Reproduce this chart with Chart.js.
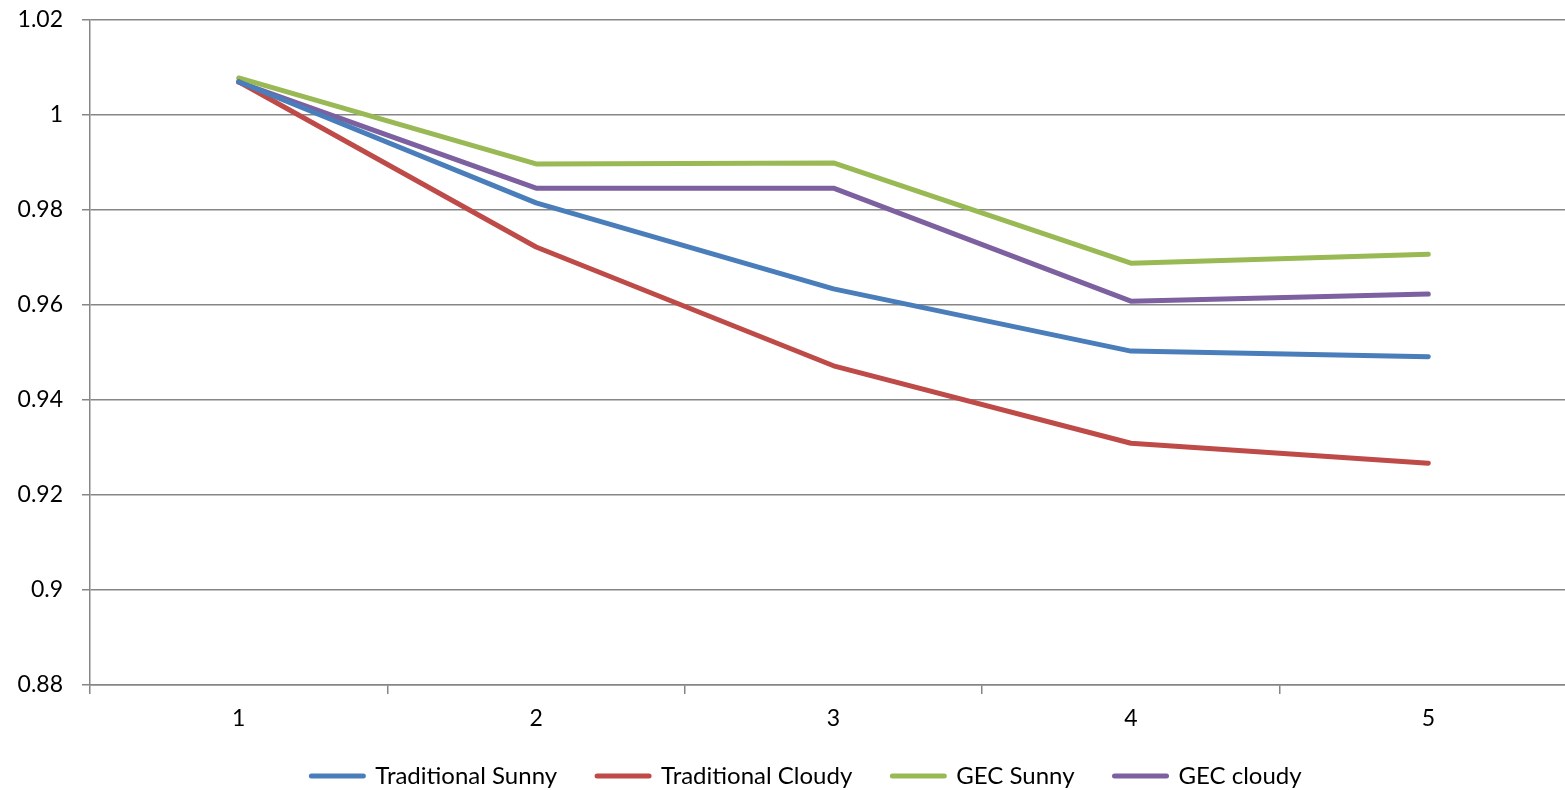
<!DOCTYPE html>
<html>
<head>
<meta charset="utf-8">
<script src="https://cdn.jsdelivr.net/npm/chart.js@4"></script>
<style>
  html, body { margin: 0; padding: 0; background: #fff; overflow: hidden; }
  #wrap { width: 1577px; height: 790px; }
</style>
</head>
<body>
<div id="wrap"><canvas id="chart"></canvas></div>
<script>
/* ── data ── */
const categories = ['1', '2', '3', '4', '5'];
const tradSunny  = [1.0070, 0.9815, 0.9634, 0.9503, 0.9491];
const tradCloudy = [1.0070, 0.9722, 0.9472, 0.9309, 0.9267];
const gecSunny   = [1.0078, 0.9897, 0.9899, 0.9688, 0.9707];
const gecCloudy  = [1.0069, 0.9846, 0.9846, 0.9608, 0.9623];
const yTicks     = [0.88, 0.9, 0.92, 0.94, 0.96, 0.98, 1, 1.02];

const FONT = 'Lato, "Liberation Sans", sans-serif';
const GRID = '#868686';

function series(label, data, color) {
  return {
    label, data,
    borderColor: color,
    backgroundColor: color,
    borderWidth: 5,
    borderCapStyle: 'round',
    borderJoinStyle: 'round',
    pointRadius: 0,
    tension: 0,
  };
}

/* move the legend a little right / up, like the original */
const legendShift = {
  id: 'legendShift',
  afterLayout(chart) {
    const lg = chart.legend;
    if (!lg) return;
    lg.left   += 18;
    lg.right  += 18;
    lg.top    -= 13;
    lg.bottom -= 13;
  },
};

new Chart(document.getElementById('chart'), {
  type: 'line',
  data: {
    labels: categories,
    datasets: [
      series('Traditional Sunny',  tradSunny,  '#4A7EBB'),
      series('Traditional Cloudy', tradCloudy, '#BE4B48'),
      series('GEC Sunny',          gecSunny,   '#98B954'),
      series('GEC cloudy',         gecCloudy,  '#7D60A0'),
    ],
  },
  plugins: [legendShift],
  options: {
    responsive         : true,
    maintainAspectRatio: false,
    animation          : false,
    layout: { padding: { top: 20, right: 0, left: 0, bottom: -21 } },
    plugins: {
      tooltip: { enabled: false },
      legend: {
        position: 'bottom',
        labels  : {
          usePointStyle  : true,
          pointStyle     : 'line',
          pointStyleWidth: 52,
          color          : '#000',
          padding        : 40,
          font           : { family: FONT, size: 24 },
          generateLabels(chart) {
            return Chart.defaults.plugins.legend.labels.generateLabels(chart)
              .map(l => ({ ...l, lineWidth: 5, lineCap: 'round' }));
          },
        },
      },
    },
    scales: {
      x: {
        offset: true,
        grid: {
          offset         : true,
          drawOnChartArea: false,
          drawTicks      : true,
          tickLength     : 9,
          color          : GRID,
          lineWidth      : 1.5,
        },
        border: { display: true, color: GRID, width: 1.5 },
        ticks : { color: '#000', padding: 11, font: { family: FONT, size: 23 } },
        afterFit(scale) { scale.height = 52; },
      },
      y: {
        min: 0.88,
        max: 1.02,
        afterBuildTicks(scale) { scale.ticks = yTicks.map(v => ({ value: v })); },
        grid: {
          color     : GRID,
          lineWidth : 1.5,
          tickLength: 8,
        },
        border: { display: true, color: GRID, width: 1.5 },
        ticks : {
          color   : '#000',
          padding : 19,
          font    : { family: FONT, size: 23 },
          callback: v => String(+v.toFixed(2)),
        },
        afterFit(scale) {
          scale.width = 90;
          scale.paddingTop = 0;
          scale.paddingBottom = 0;
        },
      },
    },
  },
});
</script>
</body>
</html>
